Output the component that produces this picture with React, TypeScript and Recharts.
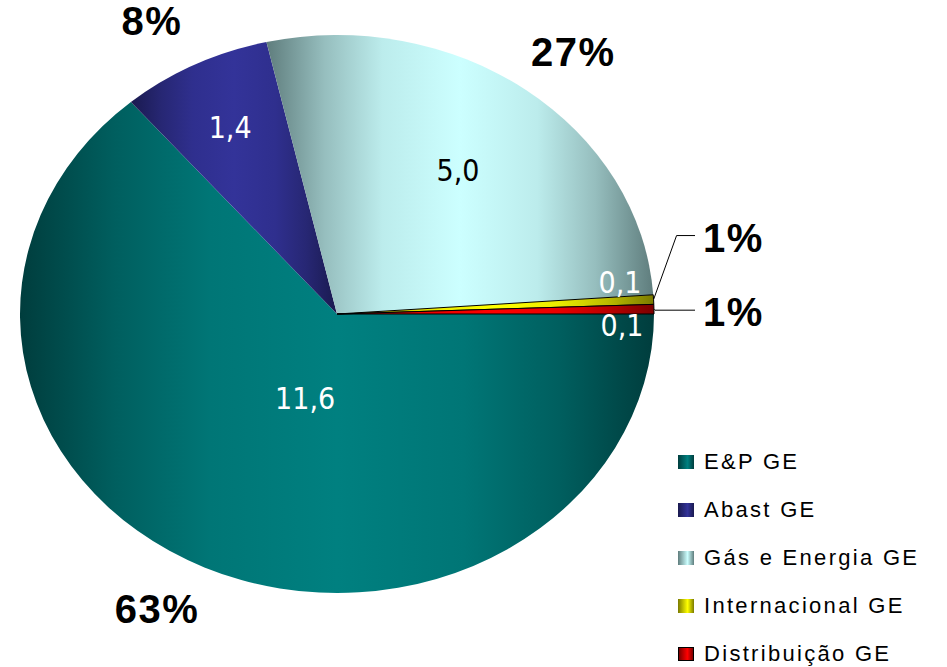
import { PieChart, Pie, Cell, Legend } from "recharts";

// Investimentos por área de negócio (R$ bilhões)
const segments = ["E&P GE", "Abast GE", "Gás e Energia GE", "Internacional GE", "Distribuição GE"];
const amounts = [11.6, 1.4, 5.0, 0.1, 0.1];
const shares = ["63%", "8%", "27%", "1%", "1%"];

const data = segments.map((name, i) => ({ name, value: amounts[i] }));

// colours: light centre / dark edges, like the original gradient fill
const lightColors = ["#008080", "#333399", "#ccffff", "#ffff00", "#ff0000"];
const darkColors = ["#003d3d", "#1a1a4f", "#5f7d7d", "#7a7a00", "#7a0000"];
const outline = ["none", "none", "none", "#000", "#000"];
const valueInk = ["#fff", "#fff", "#000", "#fff", "#fff"];

// gradient profile: [offset, share of the light colour]
const gradStops: [number, number][] = [
  [0, 0],
  [0.15, 0.5],
  [0.3, 0.85],
  [0.5, 1],
  [0.7, 0.85],
  [0.85, 0.5],
  [1, 0],
];

// label placement (radius factor of the ellipse + angle nudge in degrees)
const valueR = [0.32, 0.75, 0.64, 0.9, 0.9];
const valueShift = [6.4, 0, 0, 4.3, -3.7];
const shareR = 1.2;
const shareShift = [-3.5, 2.4, -1.8, 0, 0];
const callouts = [null, null, null, { dx: 23, dy: -64 }, { dx: 1, dy: 1 }];

const RY = 279 / 317;
const RAD = Math.PI / 180;

const fmt = (v: number) => v.toFixed(1).replace(".", ",");

function mix(a: string, b: string, t: number) {
  const pa = [1, 3, 5].map((k) => parseInt(a.slice(k, k + 2), 16));
  const pb = [1, 3, 5].map((k) => parseInt(b.slice(k, k + 2), 16));
  const c = pa.map((v, k) => Math.round(v + (pb[k] - v) * t));
  return `rgb(${c[0]},${c[1]},${c[2]})`;
}

function EllipseSector(props: any) {
  const { cx, cy, outerRadius, startAngle, endAngle, fill, stroke, strokeWidth } = props;
  const rx = outerRadius;
  const ry = outerRadius * RY;
  const pt = (a: number) => [cx + rx * Math.cos(a * RAD), cy - ry * Math.sin(a * RAD)];
  const [x0, y0] = pt(startAngle);
  const [x1, y1] = pt(endAngle);
  const large = Math.abs(endAngle - startAngle) > 180 ? 1 : 0;
  const sweep = startAngle > endAngle ? 1 : 0;
  const d = `M${cx},${cy} L${x0},${y0} A${rx},${ry} 0 ${large} ${sweep} ${x1},${y1} Z`;
  return <path d={d} fill={fill} stroke={stroke} strokeWidth={strokeWidth} />;
}

function renderLabel(props: any) {
  const { cx, cy, midAngle, outerRadius, index, value } = props;
  const rx = outerRadius;
  const ry = outerRadius * RY;
  const at = (f: number, a: number) => [cx + rx * f * Math.cos(a * RAD), cy - ry * f * Math.sin(a * RAD)];

  const [vx, vy] = at(valueR[index], midAngle + valueShift[index]);
  const call = callouts[index];
  let share;
  if (call) {
    const [ex, ey] = at(1, midAngle);
    const bx = ex + call.dx;
    const by = ey + call.dy;
    const endX = cx + rx + 41;
    share = (
      <g>
        <polyline points={`${ex},${ey} ${bx},${by} ${endX},${by}`} fill="none" stroke="#000" strokeWidth={1} />
        <text
          x={endX + 8}
          y={by + 2}
          textAnchor="start"
          dominantBaseline="central"
          fontFamily="'Liberation Sans', Arial, sans-serif"
          fontWeight="bold"
          fontSize={40}
          letterSpacing={1.5}
          fill="#000"
        >
          {shares[index]}
        </text>
      </g>
    );
  } else {
    const [sx, sy] = at(shareR, midAngle + shareShift[index]);
    share = (
      <text
        x={sx}
        y={sy}
        textAnchor="middle"
        dominantBaseline="central"
        fontFamily="'Liberation Sans', Arial, sans-serif"
        fontWeight="bold"
        fontSize={40}
        letterSpacing={1.5}
        fill="#000"
      >
        {shares[index]}
      </text>
    );
  }

  return (
    <g key={`lbl-${index}`}>
      <text
        x={vx}
        y={vy}
        textAnchor="middle"
        dominantBaseline="central"
        fontFamily="'Liberation Sans Narrow', 'DejaVu Sans Condensed', sans-serif"
        fontSize={30}
        fill={valueInk[index]}
      >
        {fmt(value)}
      </text>
      {share}
    </g>
  );
}

function LegendBox() {
  return (
    <div style={{ fontFamily: "'Liberation Sans', Arial, sans-serif" }}>
      {segments.map((name, i) => (
        <div key={name} style={{ display: "flex", alignItems: "center", height: 48 }}>
          <span
            style={{
              display: "inline-block",
              width: 16,
              height: 14,
              marginLeft: 2,
              marginRight: 10,
              boxSizing: "border-box",
              border: i === 4 ? "1px solid #000" : "none",
              background: `linear-gradient(to right, ${darkColors[i]}, ${lightColors[i]} 60%, ${darkColors[i]})`,
            }}
          />
          <span style={{ fontSize: 22, letterSpacing: 2.3, color: "#000", whiteSpace: "nowrap" }}>{name}</span>
        </div>
      ))}
    </div>
  );
}

export default function App() {
  return (
    <div style={{ position: "absolute", left: 0, top: 0, width: 947, height: 667, background: "#fff" }}>
      <PieChart width={947} height={667} margin={{ top: 0, right: 0, bottom: 0, left: 0 }}>
        <defs>
          {segments.map((_, i) => (
            <linearGradient key={i} id={`grad${i}`} x1="0" y1="0" x2="1" y2="0">
              {gradStops.map(([off, t]) => (
                <stop key={off} offset={`${off * 100}%`} stopColor={mix(darkColors[i], lightColors[i], t)} />
              ))}
            </linearGradient>
          ))}
        </defs>
        <Pie
          data={data}
          dataKey="value"
          nameKey="name"
          cx={337}
          cy={314}
          outerRadius={317}
          startAngle={0}
          endAngle={-360}
          shape={EllipseSector}
          label={renderLabel}
          labelLine={false}
          isAnimationActive={false}
        >
          {data.map((_, i) => (
            <Cell key={i} fill={`url(#grad${i})`} stroke={outline[i]} strokeWidth={1} />
          ))}
        </Pie>
        <Legend
          layout="vertical"
          align="right"
          verticalAlign="top"
          content={() => <LegendBox />}
          wrapperStyle={{ position: "absolute", left: 676, top: 438, width: 270 }}
        />
      </PieChart>
    </div>
  );
}
